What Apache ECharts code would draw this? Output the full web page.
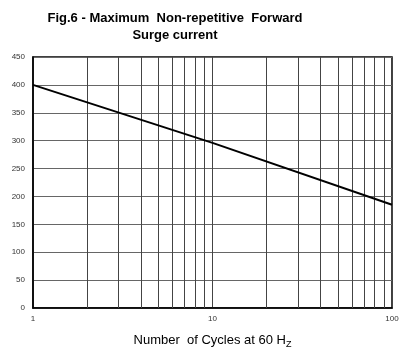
<!DOCTYPE html>
<html>
<head>
<meta charset="utf-8">
<script src="https://cdn.jsdelivr.net/npm/echarts@6/dist/echarts.min.js"></script>
<style>
  html, body { margin: 0; padding: 0; background: #fff; }
  #chart { width: 408px; height: 354px; }
</style>
</head>
<body>
<div id="chart"></div>
<script>
// cycles at 60 Hz vs peak surge current (A)
const cycles = [1, 10, 100];
const surgeCurrent = [400, 296, 185];
// vertical grid at every decade step (2..9, 20..90)
const gridCycles = [2, 3, 4, 5, 6, 7, 8, 9, 20, 30, 40, 50, 60, 70, 80, 90];
const yTicks = [0, 50, 100, 150, 200, 250, 300, 350, 400, 450];

const chart = echarts.init(document.getElementById('chart'));

const option = {
  animation: false,
  textStyle: { fontFamily: 'Liberation Sans, Arial, sans-serif' },
  title: {
    text: 'Fig.6 - Maximum  Non-repetitive  Forward\nSurge current',
    left: 170,
    top: 5,
    textAlign: 'center',
    textStyle: {
      fontSize: 13,
      fontWeight: 'bold',
      color: '#000',
      lineHeight: 17,
      align: 'center'
    }
  },
  grid: {
    left: 33,
    right: 16,
    top: 57,
    bottom: 46,
    show: true,
    borderColor: '#000',
    borderWidth: 1.5
  },
  xAxis: {
    type: 'log',
    logBase: 10,
    min: 1,
    max: 100,
    name: '{n|Number  of Cycles at 60 H}{s|Z}',
    nameLocation: 'middle',
    nameGap: 24,
    nameTextStyle: {
      rich: {
        n: { fontSize: 13, color: '#000', fontFamily: 'Liberation Sans, Arial, sans-serif' },
        s: { fontSize: 9, color: '#000', padding: [8, 0, 0, 0], fontFamily: 'Liberation Sans, Arial, sans-serif' }
      }
    },
    axisLine: { show: true, lineStyle: { color: '#000', width: 1.5 } },
    axisTick: { show: false },
    axisLabel: { fontSize: 8, color: '#333', margin: 7 },
    splitLine: { show: true, lineStyle: { color: '#444', width: 1 } }
  },
  yAxis: {
    type: 'value',
    min: 0,
    max: 450,
    interval: 50,
    axisLine: { show: true, lineStyle: { color: '#000', width: 1.5 } },
    axisTick: { show: false },
    axisLabel: {
      fontSize: 8,
      color: '#333',
      margin: 8,
      formatter: v => (yTicks.includes(v) ? String(v) : '')
    },
    splitLine: { show: true, lineStyle: { color: '#666', width: 1 } }
  },
  series: [
    {
      type: 'line',
      data: cycles.map((c, i) => [c, surgeCurrent[i]]),
      symbol: 'none',
      lineStyle: { color: '#000', width: 2 },
      markLine: {
        silent: true,
        symbol: 'none',
        label: { show: false },
        lineStyle: { color: '#444', width: 1, type: 'solid' },
        data: gridCycles.map(c => ({ xAxis: c }))
      },
      z: 5
    }
  ]
};

chart.setOption(option);
</script>
</body>
</html>
